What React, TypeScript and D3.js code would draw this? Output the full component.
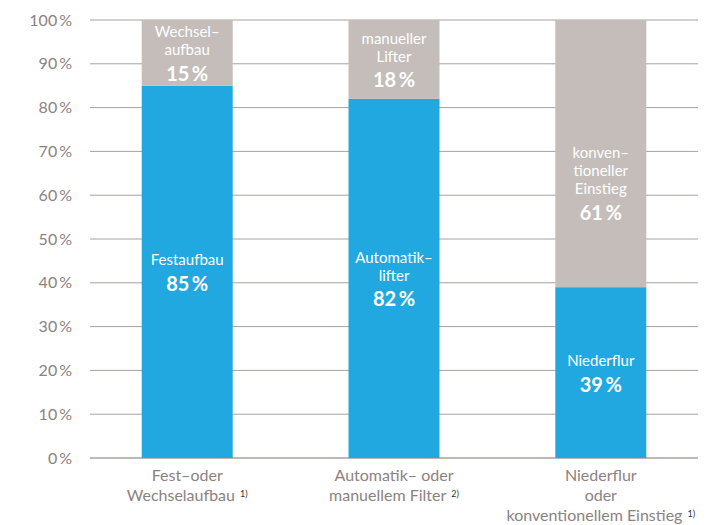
import React from "react";
import * as d3 from "d3";

const categories = ["Fest–oder|Wechselaufbau", "Automatik– oder|manuellem Filter", "Niederflur|oder|konventionellem Einstieg"];
const footnotes = ["1)", "2)", "1)"];
const blueValues = [85, 82, 39];
const grayValues = [15, 18, 61];
const blueLabels = [["Festaufbau"], ["Automatik–", "lifter"], ["Niederflur"]];
const grayLabels = [["Wechsel–", "aufbau"], ["manueller", "Lifter"], ["konven–", "tioneller", "Einstieg"]];
const yTicks = [0, 10, 20, 30, 40, 50, 60, 70, 80, 90, 100];

const W = 722, H = 525;
const FONT = "Lato, 'Open Sans', sans-serif";
const BLUE = "#22a8e0";
const GRAY = "#c4bdba";
const GRID = "#aaa09d";
const TXT = "#8c8280";

export default function App() {
  const y = d3.scaleLinear().domain([0, 100]).range([458, 20]);
  const x = d3.scaleBand().domain(categories).range([90, 698]).paddingInner(0.56).paddingOuter(0.25);

  const block = (lines: string[], pct: number, cx: number, yTop: number, yBot: number, key: string, nudge = 0) => {
    const n = lines.length;
    const h = (n - 1) * 18 + 24;
    const mid = (yTop + yBot) / 2 + nudge;
    const start = mid - h / 2;
    return (
      <g key={key}>
        {lines.map((l, i) => (
          <text key={i} x={cx} y={start + i * 18} dy="0.35em" textAnchor="middle" fill="#ffffff" fontSize={15} fontFamily={FONT}>{l}</text>
        ))}
        <text x={cx} y={start + (n - 1) * 18 + 24} dy="0.35em" textAnchor="middle" fill="#ffffff" fontSize={20} fontWeight={700} fontFamily={FONT}>
          {pct + "\u2009%"}
        </text>
      </g>
    );
  };

  return (
    <svg width={W} height={H} style={{ position: "absolute", left: 0, top: 0, background: "#fff" }}>
      {yTicks.map((t) => (
        <g key={t}>
          <line x1={90} x2={698} y1={y(t)} y2={y(t)} stroke={GRID} strokeWidth={t === 0 ? 1.5 : 1} />
          <text x={72} y={y(t)} dy="0.35em" textAnchor="end" fill={TXT} fontSize={16} fontFamily={FONT}>{t + "\u2009%"}</text>
        </g>
      ))}
      {categories.map((c, i) => {
        const x0 = x(c)!;
        const bw = x.bandwidth();
        const cx = x0 + bw / 2;
        const yb = y(blueValues[i]);
        const yg = y(blueValues[i] + grayValues[i]);
        const lines = c.split("|");
        return (
          <g key={c}>
            <rect x={x0} y={yb} width={bw} height={y(0) - yb} fill={BLUE} />
            <rect x={x0} y={yg} width={bw} height={yb - yg} fill={GRAY} />
            {block(blueLabels[i], blueValues[i], cx, yb, y(0), "b" + i)}
            {block(grayLabels[i], grayValues[i], cx, yg, yb, "g" + i, i === 2 ? 29 : 0)}
            {lines.map((l, j) => (
              <text key={j} x={cx} y={475 + j * 20} dy="0.35em" textAnchor="middle" fill={TXT} fontSize={16} fontFamily={FONT}>
                {l}
                {j === lines.length - 1 ? (
                  <tspan dx={5} dy="-0.4em" fontSize={9} fill="#333">{footnotes[i]}</tspan>
                ) : null}
              </text>
            ))}
          </g>
        );
      })}
    </svg>
  );
}
